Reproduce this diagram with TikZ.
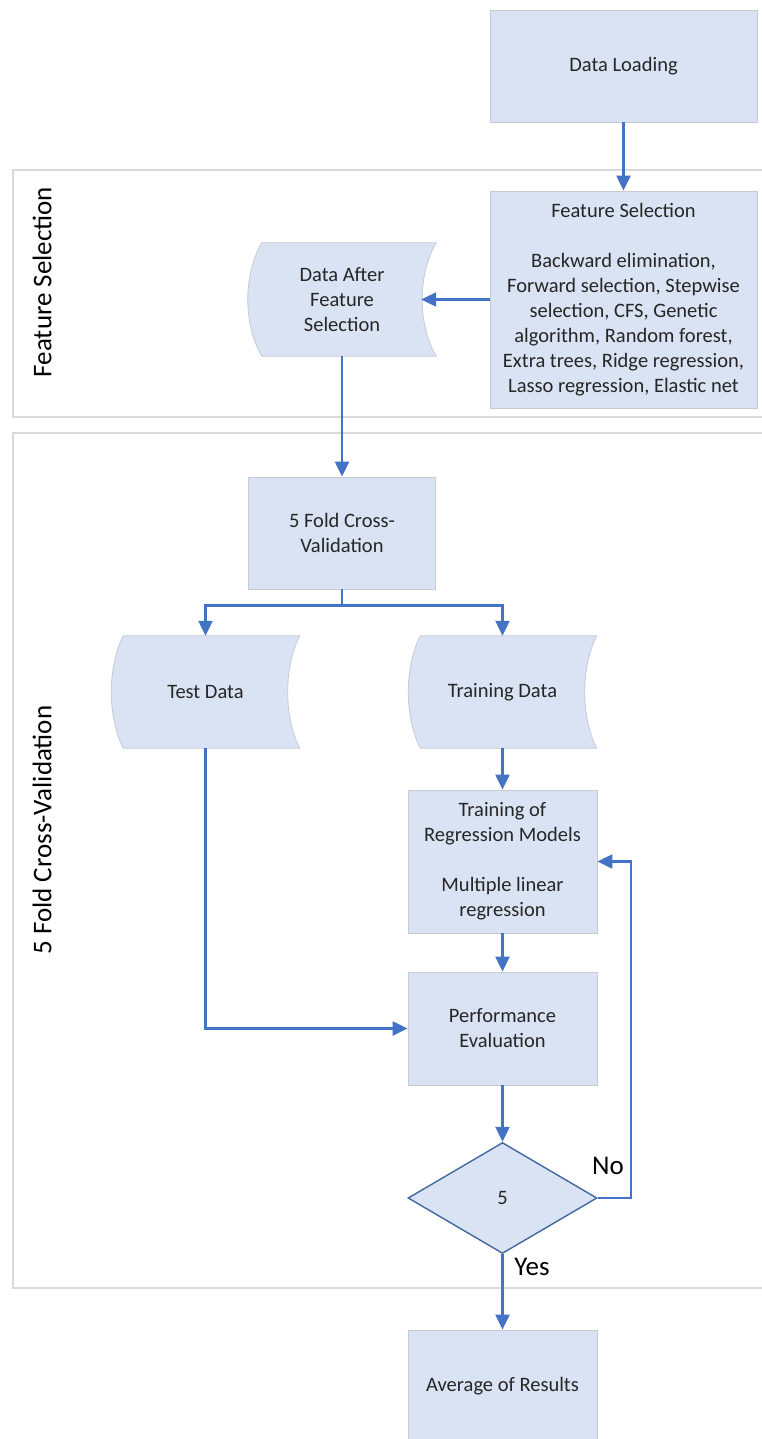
\documentclass[tikz,border=0pt]{standalone}
\usepackage{fontspec}
\setmainfont{Carlito}
\usetikzlibrary{arrows.meta,shapes.geometric,backgrounds}
\definecolor{boxfill}{HTML}{DAE3F3}
\definecolor{boxline}{HTML}{C5CAD3}
\definecolor{arrblue}{HTML}{4472C4}
\definecolor{diaLine}{HTML}{41699E}
\definecolor{frameline}{HTML}{D9D9D9}
\definecolor{txt}{HTML}{262626}
\tikzset{
  procbox/.style={rectangle, fill=boxfill, draw=boxline, line width=0.8pt, inner sep=0pt, align=center,
    font=\fontsize{20.5}{25}\selectfont, text=txt},
  storedtxt/.style={rectangle, inner sep=0pt, align=center, font=\fontsize{20.5}{25}\selectfont, text=txt},
  storedshape/.style={fill=boxfill, draw=boxline, line width=0.8pt},
  decbox/.style={diamond, fill=boxfill, draw=diaLine, line width=1.4pt, inner sep=0pt, align=center,
    font=\fontsize{20.5}{25}\selectfont, text=txt, minimum width=189pt, minimum height=111pt},
  arr/.style={draw=arrblue, line width=2.2pt, -{Triangle[length=15pt,width=14pt]}},
  frame/.style={draw=frameline, line width=2pt},
  sidelabel/.style={rotate=90, font=\fontsize{27}{32}\selectfont, text=black, inner sep=0pt},
  branchlabel/.style={font=\fontsize{27}{32}\selectfont, text=black, inner sep=0pt}
}
% stored-data outline around a named node (depth #2)
\newlength{\myh}
\newcommand{\storedoutline}[2]{%
  \path[storedshape] ([xshift=#2pt]#1.north west) -- (#1.north east)
    .. controls ([xshift=-4*#2pt/3,yshift=-0.28*\myh]#1.north east) and ([xshift=-4*#2pt/3,yshift=0.28*\myh]#1.south east) .. (#1.south east)
    -- ([xshift=#2pt]#1.south west)
    .. controls ([xshift=-#2pt/3,yshift=0.28*\myh]#1.south west) and ([xshift=-#2pt/3,yshift=-0.28*\myh]#1.north west) .. ([xshift=#2pt]#1.north west) -- cycle;}
\begin{document}
\begin{tikzpicture}[x=1pt,y=-1pt]
\clip (0,0) rectangle (762,1439);

% section frames
\draw[frame] (780,170) -- (13,170) -- (13,417) -- (780,417);
\draw[frame] (780,433) -- (13,433) -- (13,1288) -- (780,1288);
\node[sidelabel] (lblfs) at (42,282) {Feature Selection};
\node[sidelabel] (lblcv) at (42,830) {5 Fold Cross-Validation};

% nodes
\node[procbox, minimum width=267pt, minimum height=112pt] (dl) at (623.5,66) {Data Loading};
\node[procbox, minimum width=267pt, minimum height=217pt] (fs) at (623.5,299.5)
  {Feature Selection\\[25pt]Backward elimination,\\Forward selection, Stepwise\\selection, CFS, Genetic\\algorithm, Random forest,\\Extra trees, Ridge regression,\\Lasso regression, Elastic net};
\node[storedtxt, minimum width=188pt, minimum height=113pt] (dafs) at (342,299.5) {Data After\\Feature\\Selection};
\node[procbox, minimum width=187pt, minimum height=112pt] (cv) at (342,533) {5 Fold Cross-\\Validation};
\node[storedtxt, minimum width=188pt, minimum height=112pt] (td) at (205.5,692) {Test Data};
\node[storedtxt, minimum width=188pt, minimum height=112pt] (trd) at (502.5,692) {Training Data};
\node[procbox, minimum width=189pt, minimum height=143pt] (tr) at (502.5,861.5)
  {Training of\\Regression Models\\[25pt]Multiple linear\\regression};
\node[procbox, minimum width=189pt, minimum height=113pt] (pe) at (502.5,1028.5) {Performance\\Evaluation};
\node[decbox] (dec) at (502.5,1198) {5};
\node[procbox, minimum width=189pt, minimum height=112pt] (avg) at (502.5,1386) {Average of Results};

% stored-data outlines behind text
\begin{scope}[on background layer]
  \fill[white] (0,0) rectangle (762,1439);
  \setlength{\myh}{113pt}
  \storedoutline{dafs}{14}
  \setlength{\myh}{112pt}
  \storedoutline{td}{12}
  \storedoutline{trd}{12}
\end{scope}

% labels
\node[branchlabel] (no) at (608,1166) {No};
\node[branchlabel] (yes) at (532,1267) {Yes};

% connectors
\draw[arr] (dl.south) -- (fs.north);
\draw[arr] (fs.west) -- ([xshift=-15pt]dafs.east);
\draw[arr] (dafs.south) -- (cv.north);
\draw[arr] (cv.south) -- ++(0,16) -| (td.north);
\draw[arr] (cv.south) -- ++(0,16) -| (trd.north);
\draw[arr] (td.south) |- (pe.west);
\draw[arr] (trd.south) -- (tr.north);
\draw[arr] (tr.south) -- (pe.north);
\draw[arr] (pe.south) -- (dec.north);
\draw[arr] (dec.east) -- ++(33,0) |- (tr.east);
\draw[arr] (dec.south) -- (avg.north);
\end{tikzpicture}
\end{document}
